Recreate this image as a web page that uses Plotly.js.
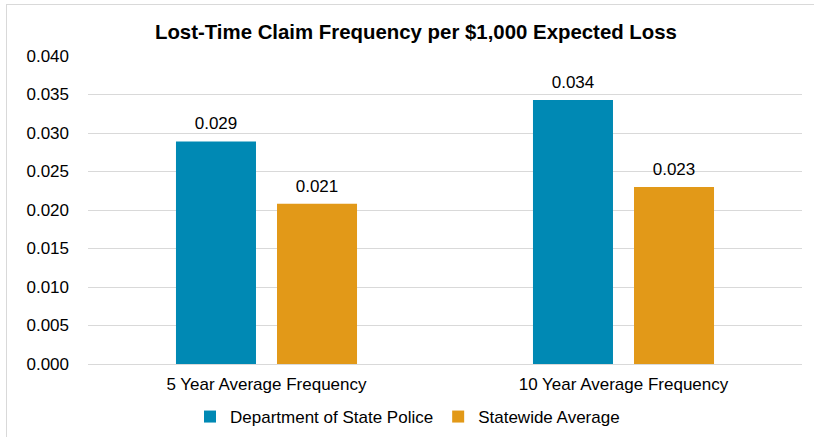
<!DOCTYPE html>
<html>
<head>
<meta charset="utf-8">
<script src="https://cdn.plot.ly/plotly-3.0.1.min.js"></script>
<style>
  html, body { margin: 0; padding: 0; background: #ffffff; }
  #wrap { position: relative; width: 814px; height: 437px; overflow: hidden; }
  #frame { position: absolute; left: 6px; top: 4px; width: 900px; height: 500px;
           border-left: 1px solid #d9d9d9; border-top: 1px solid #d9d9d9; }
  #chart { position: absolute; left: 0; top: 0; width: 814px; height: 437px; }
</style>
</head>
<body>
<div id="wrap">
  <div id="frame"></div>
  <div id="chart"></div>
</div>
<script>
const categories = ["5 Year Average Frequency", "10 Year Average Frequency"];
const seriesNames = ["Department of State Police", "Statewide Average"];
const statePolice = [0.0289, 0.0343];
const statewideAvg = [0.0208, 0.0230];
const yTicks = [0, 0.005, 0.010, 0.015, 0.020, 0.025, 0.030, 0.035, 0.040];
const yTickLabels = ["0.000", "0.005", "0.010", "0.015", "0.020", "0.025", "0.030", "0.035", "0.040"];

const colors = ["#0089b4", "#e29918"];
const FONT = "Liberation Sans, Arial, sans-serif";
const seriesValues = [statePolice, statewideAvg];

const traces = [];
seriesValues.forEach((vals, i) => {
  traces.push({
    type: "bar",
    name: seriesNames[i],
    x: categories,
    y: vals,
    marker: { color: colors[i], line: { width: 0 } },
    hoverinfo: "skip"
  });
});
seriesValues.forEach((vals, i) => {
  traces.push({
    type: "scatter",
    mode: "markers+text",
    x: categories,
    y: vals,
    text: vals.map(v => v.toFixed(3)),
    textposition: "top center",
    textfont: { family: FONT, size: 17, color: "#000000" },
    marker: { size: 11, opacity: 0 },
    showlegend: false,
    hoverinfo: "skip",
    cliponaxis: false
  });
});

const layout = {
  width: 814,
  height: 437,
  paper_bgcolor: "rgba(0,0,0,0)",
  plot_bgcolor: "rgba(0,0,0,0)",
  margin: { l: 88, r: 12, t: 56, b: 73 },
  font: { family: FONT, size: 17, color: "#000000" },
  title: {
    text: "<b>Lost-Time Claim Frequency per $1,000 Expected Loss</b>",
    font: { family: FONT, size: 20.4, color: "#000000" },
    xref: "container", x: 0.511, xanchor: "center",
    yref: "container", y: 1 - 32 / 437, yanchor: "middle"
  },
  barmode: "group",
  bargap: 0.434,
  bargroupgap: 0.208,
  scattermode: "group",
  scattergap: 0.434,
  xaxis: {
    type: "category",
    showgrid: false,
    showline: true,
    linecolor: "#d9d9d9",
    linewidth: 1,
    ticks: "",
    ticklabelstandoff: 5,
    tickfont: { family: FONT, size: 17, color: "#000000" },
    fixedrange: true
  },
  yaxis: {
    range: [0, 0.040],
    tickvals: yTicks,
    ticktext: yTickLabels,
    showgrid: true,
    gridcolor: "#d9d9d9",
    gridwidth: 1,
    zeroline: false,
    showline: false,
    ticks: "",
    ticklabelstandoff: 18,
    tickfont: { family: FONT, size: 17, color: "#000000" },
    fixedrange: true
  },
  showlegend: true,
  legend: {
    orientation: "h",
    xref: "container", x: 190 / 814, xanchor: "left",
    yref: "container", y: 1 - 417 / 437, yanchor: "middle",
    font: { family: FONT, size: 17, color: "#000000" },
    bgcolor: "rgba(0,0,0,0)",
    traceorder: "normal"
  }
};

Plotly.newPlot("chart", traces, layout, { displayModeBar: false, staticPlot: true });
</script>
</body>
</html>
